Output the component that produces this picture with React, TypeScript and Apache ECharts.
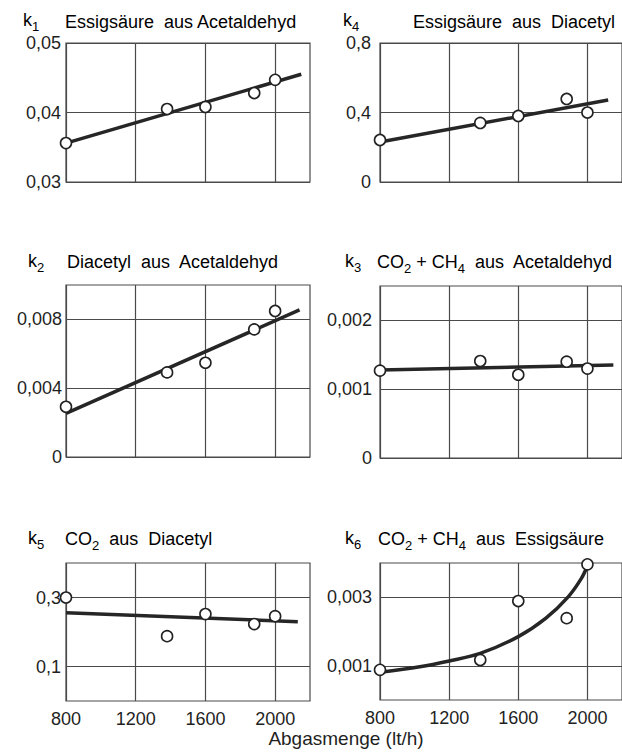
import React, { useEffect, useRef } from "react";
import * as echarts from "echarts";

type Pt = [number, number];

const FONT = "'Liberation Sans', Arial, sans-serif";
const INK = "#1f1f1f";
const RULE = "#4a4a4a";

// Abgasmenge (lt/h)
const xTicks = [800, 1200, 1600, 2000];
const xMin = 800;
const xMax = 2200;

// k1 – Essigsäure aus Acetaldehyd
const k1Ticks = [0.03, 0.04, 0.05];
const k1Points: Pt[] = [[800, 0.0356], [1380, 0.0405], [1600, 0.0408], [1880, 0.0428], [2000, 0.0447]];
const k1Fit: Pt[] = [[800, 0.0356], [2150, 0.0455]];

// k4 – Essigsäure aus Diacetyl
const k4Ticks = [0, 0.4, 0.8];
const k4Points: Pt[] = [[800, 0.242], [1380, 0.34], [1600, 0.38], [1880, 0.478], [2000, 0.4]];
const k4Fit: Pt[] = [[800, 0.23], [2120, 0.472]];

// k2 – Diacetyl aus Acetaldehyd
const k2Ticks = [0, 0.004, 0.008];
const k2Points: Pt[] = [[800, 0.00292], [1380, 0.00492], [1600, 0.00548], [1880, 0.00742], [2000, 0.00849]];
const k2Fit: Pt[] = [[800, 0.00254], [2140, 0.00855]];

// k3 – CO2 + CH4 aus Acetaldehyd
const k3Ticks = [0, 0.001, 0.002];
const k3Points: Pt[] = [[800, 0.00127], [1380, 0.00141], [1600, 0.00121], [1880, 0.0014], [2000, 0.0013]];
const k3Fit: Pt[] = [[800, 0.00128], [2150, 0.00135]];

// k5 – CO2 aus Diacetyl
const k5Ticks = [0.1, 0.3];
const k5Points: Pt[] = [[800, 0.3], [1380, 0.188], [1600, 0.252], [1880, 0.223], [2000, 0.246]];
const k5Fit: Pt[] = [[800, 0.256], [2130, 0.23]];

// k6 – CO2 + CH4 aus Essigsäure
const k6Ticks = [0.001, 0.003];
const k6Points: Pt[] = [[800, 0.00088], [1380, 0.00117], [1600, 0.00289], [1880, 0.00239], [2000, 0.00396]];
const k6Fit: Pt[] = [
  [800, 0.00081], [1030, 0.00097], [1200, 0.00114], [1380, 0.00136], [1600, 0.00185],
  [1760, 0.00239], [1890, 0.00302], [1965, 0.00355], [2000, 0.00392],
];

interface Panel {
  rect: { left: number; top: number; width: number; height: number };
  yMin: number;
  yMax: number;
  ticks: number[];
  decimals: number;
  labelMargin: number;
  points: Pt[];
  fit: Pt[];
  smooth: boolean;
  showX: boolean;
}

const panels: Panel[] = [
  { rect: { left: 66, top: 43, width: 244, height: 139 }, yMin: 0.03, yMax: 0.05, ticks: k1Ticks, decimals: 2, labelMargin: 5, points: k1Points, fit: k1Fit, smooth: false, showX: false },
  { rect: { left: 380, top: 43, width: 244, height: 139 }, yMin: 0, yMax: 0.8, ticks: k4Ticks, decimals: 1, labelMargin: 9, points: k4Points, fit: k4Fit, smooth: false, showX: false },
  { rect: { left: 66, top: 285, width: 244, height: 172 }, yMin: 0, yMax: 0.01, ticks: k2Ticks, decimals: 3, labelMargin: 4, points: k2Points, fit: k2Fit, smooth: false, showX: false },
  { rect: { left: 380, top: 286, width: 244, height: 172 }, yMin: 0, yMax: 0.0025, ticks: k3Ticks, decimals: 3, labelMargin: 8, points: k3Points, fit: k3Fit, smooth: false, showX: false },
  { rect: { left: 66, top: 563, width: 244, height: 138 }, yMin: 0, yMax: 0.4, ticks: k5Ticks, decimals: 1, labelMargin: 5, points: k5Points, fit: k5Fit, smooth: false, showX: true },
  { rect: { left: 380, top: 563, width: 244, height: 137 }, yMin: 0, yMax: 0.004, ticks: k6Ticks, decimals: 3, labelMargin: 8, points: k6Points, fit: k6Fit, smooth: true, showX: true },
];

const fmt = (decimals: number) => (v: number) =>
  Math.abs(v) < 1e-12 ? "0" : v.toFixed(decimals).replace(".", ",");

const rich = {
  n: { fontSize: 18, fontFamily: FONT, color: INK, lineHeight: 26, verticalAlign: "middle" },
  s: { fontSize: 13, fontFamily: FONT, color: INK, lineHeight: 14, verticalAlign: "bottom" },
};

const label = (x: number, y: number, text: string) => ({
  type: "text",
  x,
  y,
  silent: true,
  style: { text, rich, verticalAlign: "top", align: "left" },
});

const headings = [
  label(23, 7, "{n|k}{s|1}"),
  label(65, 9, "{n|Essigsäure  aus Acetaldehyd}"),
  label(343, 7, "{n|k}{s|4}"),
  label(413, 9, "{n|Essigsäure  aus  Diacetyl}"),
  label(28, 248, "{n|k}{s|2}"),
  label(67, 249, "{n|Diacetyl  aus  Acetaldehyd}"),
  label(345, 248, "{n|k}{s|3}"),
  label(377, 249, "{n|CO}{s|2}{n| + CH}{s|4}{n|  aus  Acetaldehyd}"),
  label(28, 525, "{n|k}{s|5}"),
  label(65, 526, "{n|CO}{s|2}{n|  aus  Diacetyl}"),
  label(345, 525, "{n|k}{s|6}"),
  label(378, 526, "{n|CO}{s|2}{n| + CH}{s|4}{n|  aus  Essigsäure}"),
  {
    type: "text",
    x: 346,
    y: 748,
    silent: true,
    style: { text: "Abgasmenge (lt/h)", fontSize: 19, fontFamily: FONT, fill: INK, align: "center", verticalAlign: "bottom" },
  },
];

export default function App() {
  const ref = useRef<HTMLDivElement>(null);

  useEffect(() => {
    if (!ref.current) return;
    const chart = echarts.init(ref.current, undefined, { renderer: "svg" });

    const grid = panels.map((p) => ({
      ...p.rect,
      show: true,
      borderColor: RULE,
      borderWidth: 1.2,
      backgroundColor: "transparent",
      containLabel: false,
    }));

    const xAxis = panels.map((p, i) => ({
      type: "value",
      gridIndex: i,
      min: xMin,
      max: xMax,
      axisLine: { show: false },
      axisTick: { show: false, customValues: xTicks },
      axisLabel: {
        show: p.showX,
        customValues: xTicks,
        margin: 9,
        fontSize: 18,
        fontFamily: FONT,
        color: INK,
        formatter: (v: number) => String(v),
      },
      splitLine: { show: true, lineStyle: { color: RULE, width: 1.2 } },
    }));

    const yAxis = panels.map((p, i) => ({
      type: "value",
      gridIndex: i,
      min: p.yMin,
      max: p.yMax,
      axisLine: { show: false },
      axisTick: { show: false, customValues: p.ticks },
      axisLabel: {
        customValues: p.ticks,
        margin: p.labelMargin,
        fontSize: 18,
        fontFamily: FONT,
        color: INK,
        formatter: fmt(p.decimals),
      },
      splitLine: { show: true, lineStyle: { color: RULE, width: 1.2 } },
    }));

    const series: any[] = [];
    panels.forEach((p, i) => {
      series.push({
        type: "line",
        xAxisIndex: i,
        yAxisIndex: i,
        data: p.fit,
        smooth: p.smooth ? 0.35 : false,
        showSymbol: false,
        lineStyle: { color: "#262626", width: 3.5 },
        z: 2,
        silent: true,
      });
      series.push({
        type: "scatter",
        xAxisIndex: i,
        yAxisIndex: i,
        data: p.points,
        symbol: "circle",
        symbolSize: 11,
        itemStyle: { color: "#ffffff", borderColor: "#222222", borderWidth: 1.6, opacity: 1 },
        z: 3,
        silent: true,
      });
    });

    chart.setOption({
      animation: false,
      backgroundColor: "#ffffff",
      textStyle: { fontFamily: FONT },
      grid,
      xAxis,
      yAxis,
      series,
      graphic: headings,
    });

    return () => chart.dispose();
  }, []);

  return (
    <div
      ref={ref}
      style={{ position: "fixed", left: 0, top: 0, width: 622, height: 753, background: "#fff" }}
    />
  );
}
